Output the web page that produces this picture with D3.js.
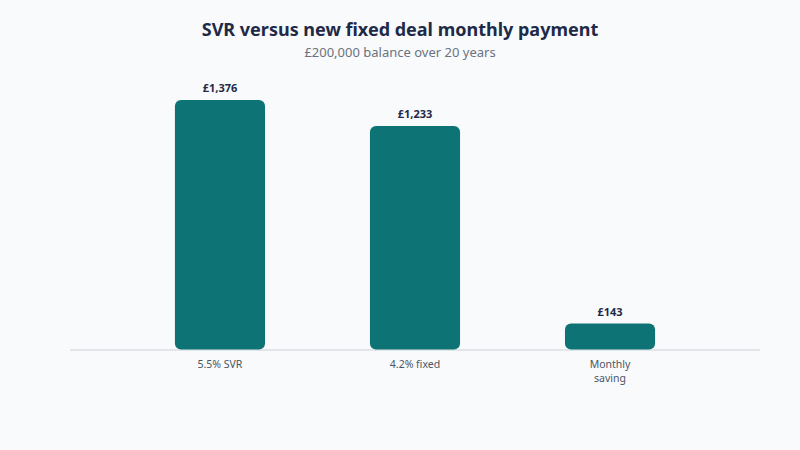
<!DOCTYPE html>
<html>
<head>
<meta charset="utf-8">
<script src="https://cdn.jsdelivr.net/npm/d3@7"></script>
<style>
  body { margin: 0; background: #f8fafc; }
  svg { display: block; font-family: "Noto Sans", sans-serif; }
</style>
</head>
<body>
<div id="chart"></div>
<script>
var categories = ["5.5% SVR", "4.2% fixed", "Monthly saving"];
var payments = [1376, 1233, 143];
var valueLabels = ["£1,376", "£1,233", "£143"];

function drawChart() {
    var width = 800, height = 450;
    var svg = d3.select("#chart").append("svg")
        .attr("width", width)
        .attr("height", height);

    svg.append("rect")
        .attr("width", width).attr("height", height)
        .attr("fill", "#f8fafc");

    svg.append("text")
        .attr("x", 400).attr("y", 36)
        .attr("text-anchor", "middle")
        .attr("font-size", 18).attr("font-weight", "bold")
        .attr("fill", "#1e2a47")
        .text("SVR versus new fixed deal monthly payment");

    svg.append("text")
        .attr("x", 400).attr("y", 57)
        .attr("text-anchor", "middle")
        .attr("font-size", 13)
        .attr("fill", "#6b7280")
        .text("£200,000 balance over 20 years");

    var x = d3.scaleBand()
        .domain(categories)
        .range([70, 760])
        .padding(0.538);

    var y = d3.scaleLinear()
        .domain([0, d3.max(payments)])
        .range([349.5, 100]);

    // baseline
    svg.append("line")
        .attr("x1", 70).attr("x2", 760)
        .attr("y1", 350).attr("y2", 350)
        .attr("stroke", "#e2e5ea").attr("stroke-width", 2);

    var bar = svg.selectAll("g.bar")
        .data(categories)
        .enter()
        .append("g")
        .attr("class", "bar");

    bar.append("rect")
        .attr("x", function (d) { return x(d); })
        .attr("y", function (d, i) { return y(payments[i]); })
        .attr("width", x.bandwidth())
        .attr("height", function (d, i) { return y(0) - y(payments[i]); })
        .attr("rx", 6).attr("ry", 6)
        .attr("fill", "#0e7374");

    bar.append("text")
        .attr("x", function (d) { return x(d) + x.bandwidth() / 2; })
        .attr("y", function (d, i) { return y(payments[i]) - 8; })
        .attr("text-anchor", "middle")
        .attr("font-size", 11).attr("font-weight", "bold")
        .attr("fill", "#1e2a47")
        .text(function (d, i) { return valueLabels[i]; });

    // category labels, wrap "Monthly saving"
    bar.each(function (d) {
        var words = d === "Monthly saving" ? ["Monthly", "saving"] : [d];
        var t = d3.select(this).append("text")
            .attr("x", x(d) + x.bandwidth() / 2)
            .attr("y", 368)
            .attr("text-anchor", "middle")
            .attr("font-size", 10.5)
            .attr("fill", "#4b5563");
        words.forEach(function (w, k) {
            t.append("tspan")
                .attr("x", x(d) + x.bandwidth() / 2)
                .attr("dy", k === 0 ? 0 : 14)
                .text(w);
        });
    });
}

window.addEventListener('load', function () {
    drawChart();
});
</script>
</body>
</html>
